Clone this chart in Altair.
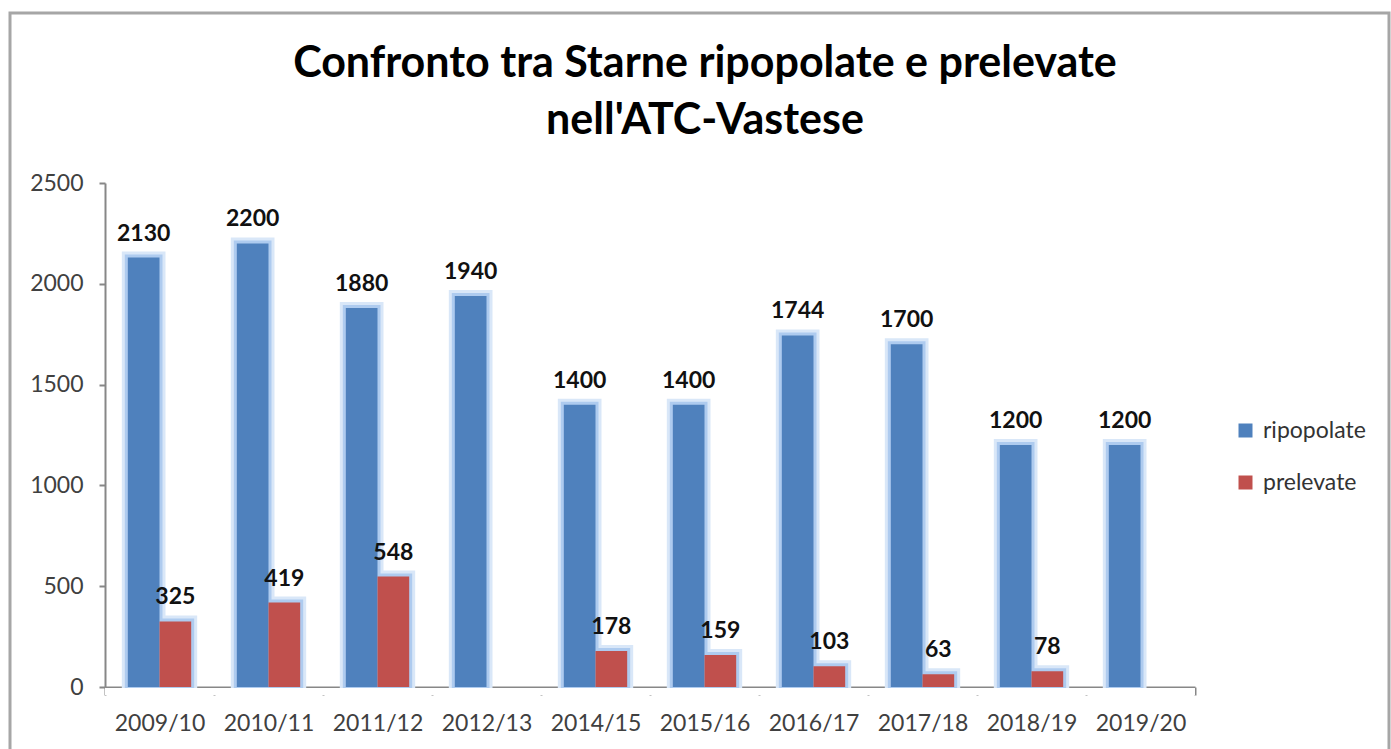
import altair as alt
import pandas as pd

seasons = ["2009/10", "2010/11", "2011/12", "2012/13", "2014/15",
           "2015/16", "2016/17", "2017/18", "2018/19", "2019/20"]
ripopolate = [2130, 2200, 1880, 1940, 1400, 1400, 1744, 1700, 1200, 1200]
prelevate = [325, 419, 548, None, 178, 159, 103, 63, 78, None]
series = ["ripopolate", "prelevate"]
colors = ["#4F81BD", "#C0504D"]
y_ticks = [0, 500, 1000, 1500, 2000, 2500]

rows = []
for s, r, p in zip(seasons, ripopolate, prelevate):
    rows.append({"stagione": s, "serie": "ripopolate", "valore": r})
    if p is not None:
        rows.append({"stagione": s, "serie": "prelevate", "valore": p})
df = pd.DataFrame(rows)

W, H = 1090, 504
FONT = "Lato"

x_enc = alt.X("stagione:N", sort=seasons,
              scale=alt.Scale(paddingInner=0, paddingOuter=0),
              axis=alt.Axis(title=None, labelAngle=0, tickBand="extent",
                            labelFontSize=23, labelPadding=17, tickSize=8))
xo_enc = alt.XOffset("serie:N", sort=series,
                     scale=alt.Scale(domain=series, paddingInner=0, paddingOuter=0.72))
y_enc = alt.Y("valore:Q", scale=alt.Scale(domain=[0, 2500]),
              axis=alt.Axis(title=None, values=y_ticks, grid=False, format="d",
                            labelFontSize=23, labelPadding=16, tickSize=6))
color_enc = alt.Color("serie:N", sort=series,
                      scale=alt.Scale(domain=series, range=colors),
                      legend=alt.Legend(title=None, orient="none", legendX=1129, legendY=236,
                                        symbolType="square", symbolSize=196,
                                        symbolStrokeWidth=0,
                                        labelFontSize=23, labelFont=FONT,
                                        labelColor="#333333", rowPadding=28,
                                        labelOffset=6))

base = alt.Chart(df)

glow_outer = base.mark_bar(fill="#D9E7F8", stroke="#D9E7F8", strokeWidth=12).encode(
    x=x_enc, xOffset=xo_enc, y=y_enc)
glow_inner = base.mark_bar(fill="#AECBEF", stroke="#AECBEF", strokeWidth=6).encode(
    x=x_enc, xOffset=xo_enc, y=y_enc)

bars = base.mark_bar().encode(x=x_enc, xOffset=xo_enc, y=y_enc, color=color_enc)

labels = base.mark_text(font=FONT, fontWeight="bold", fontSize=23,
                        baseline="alphabetic", dy=-17, color="#111111").encode(
    x=x_enc, xOffset=xo_enc, y=y_enc, text="valore:Q")

# white strip hiding the glow below the category axis
cover = alt.Chart(pd.DataFrame({"a": [0]})).mark_rect(fill="white", strokeWidth=0).encode(
    x=alt.value(0), x2=alt.value(W), y=alt.value(H + 1), y2=alt.value(H + 8))

frame = alt.Chart(pd.DataFrame({"a": [0]})).mark_rect(
    fill=None, stroke="#A6A6A6", strokeWidth=3).encode(
    x=alt.value(-95), x2=alt.value(1284), y=alt.value(-170), y2=alt.value(700))

chart = alt.layer(frame, glow_outer, glow_inner, bars, cover, labels).properties(
    width=W, height=H,
    background="white",
    autosize=alt.AutoSizeParams(type="none"),
    padding={"left": 105, "top": 183, "right": 196, "bottom": 62},
    title=alt.TitleParams(
        text=["Confronto tra Starne ripopolate e prelevate", "nell'ATC-Vastese"],
        font=FONT, fontSize=43, fontWeight="bold", color="#000000",
        anchor="middle", dx=55, offset=-131, lineHeight=57),
).configure_view(strokeWidth=0, stroke="transparent").configure_axis(
    labelFont=FONT, labelColor="#404040", domainColor="#878787", domainWidth=2,
    tickColor="#878787", tickWidth=2
)

chart.save("out.html", embed_options={"renderer": "svg", "actions": False})
